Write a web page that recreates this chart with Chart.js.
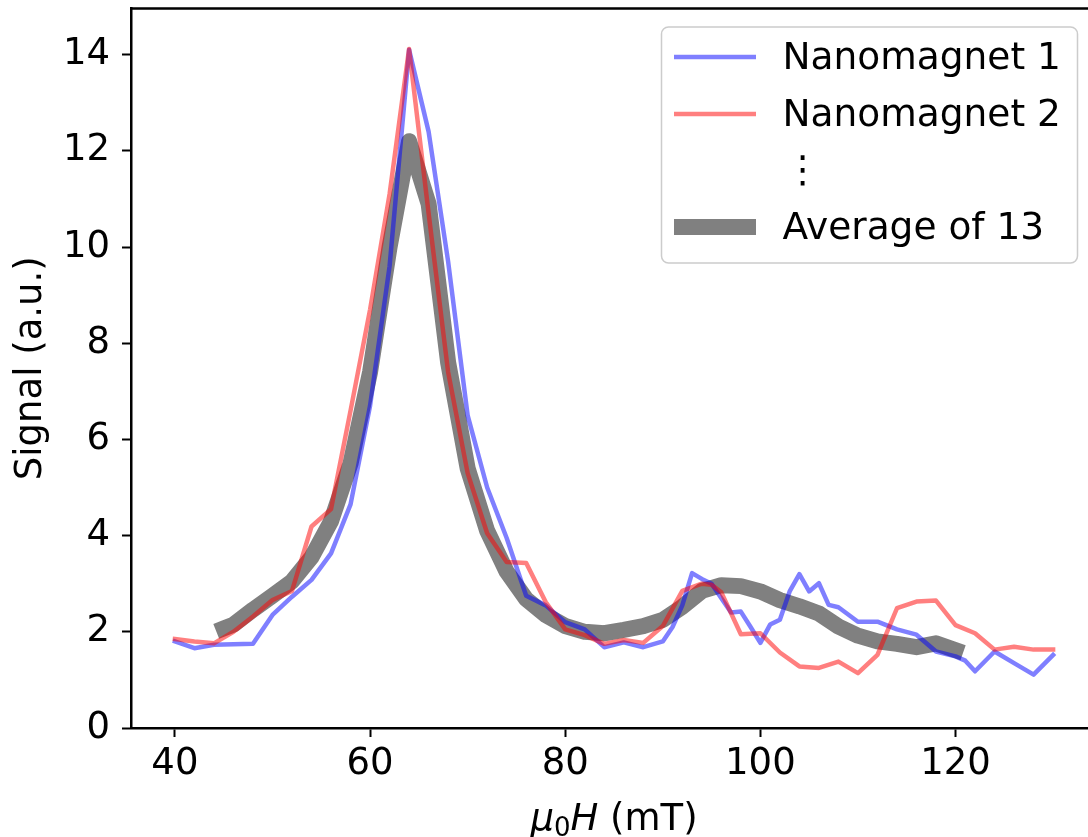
<!DOCTYPE html>
<html>
<head>
<meta charset="utf-8">
<script src="https://cdn.jsdelivr.net/npm/chart.js@4"></script>
<style>
  html, body { margin: 0; padding: 0; background: #fff; overflow: hidden; }
  #wrap { width: 1100px; height: 850px; }
</style>
</head>
<body>
<div id="wrap"><canvas id="chart"></canvas></div>
<script>
// field values (mT) and signal
const blueX = [40, 42, 44, 46, 48, 50, 52, 54, 56, 58, 60, 62, 64, 66, 68, 70, 72, 74, 76, 78, 80, 82, 84, 86, 88, 90,
  91, 92, 93, 94, 95, 96, 97, 98, 99, 100, 101, 102, 103, 104, 105, 106, 107, 108, 110, 112, 114, 116, 118, 120, 121, 122, 124, 126, 128, 130]
const blueY = [1.80, 1.66, 1.73, 1.74, 1.75, 2.35, 2.73, 3.08, 3.63, 4.65, 6.7, 9.6, 14.1, 12.4, 9.7, 6.5, 5.0, 3.95, 2.75, 2.55, 2.2, 2.05, 1.68, 1.78, 1.68, 1.80,
  2.1, 2.55, 3.22, 3.1, 3.0, 2.7, 2.4, 2.42, 2.1, 1.77, 2.15, 2.25, 2.84, 3.2, 2.84, 3.01, 2.56, 2.51, 2.21, 2.21, 2.05, 1.94, 1.59, 1.49, 1.4, 1.18, 1.59, 1.35, 1.11, 1.52]

const redX = [40, 42, 44, 46, 48, 50, 52, 54, 56, 58, 60, 62, 64, 66, 68, 70, 72, 74, 76, 78, 80, 82, 84, 86, 88, 90,
  92, 94, 95, 96, 98, 100, 102, 104, 106, 108, 110, 112, 114, 116, 118, 120, 122, 124, 126, 128, 130]
const redY = [1.85, 1.80, 1.76, 2.0, 2.32, 2.66, 2.85, 4.19, 4.55, 6.6, 8.7, 11.1, 14.12, 10.7, 7.4, 5.3, 4.05, 3.45, 3.43, 2.62, 2.05, 1.93, 1.75, 1.83, 1.77, 2.12,
  2.85, 3.0, 2.98, 2.82, 1.95, 1.97, 1.57, 1.28, 1.25, 1.38, 1.14, 1.52, 2.49, 2.63, 2.65, 2.14, 1.97, 1.63, 1.69, 1.63, 1.63]

const avgX = [45, 46, 48, 50, 52, 54, 56, 58, 60, 62, 64, 66, 68, 70, 72, 74, 76, 78, 80, 82, 84, 86, 88, 90,
  92, 94, 96, 98, 100, 102, 104, 106, 108, 110, 112, 114, 116, 118, 120]
const avgY = [2.07, 2.15, 2.46, 2.75, 3.05, 3.55, 4.3, 5.5, 7.4, 10.0, 12.2, 10.9, 7.6, 5.4, 4.1, 3.25, 2.68, 2.35, 2.12, 2.0, 1.97, 2.04, 2.12, 2.25,
  2.52, 2.85, 2.97, 2.95, 2.84, 2.66, 2.53, 2.38, 2.11, 1.92, 1.8, 1.75, 1.68, 1.76, 1.62]

const seriesLabels = ['Nanomagnet 1', 'Nanomagnet 2', 'Average of 13']
const gapLabel = '\u22EE'
const xTicks = [40, 60, 80, 100, 120]
const yTicks = [0, 2, 4, 6, 8, 10, 12, 14]

const FONT = "'DejaVu Sans', 'Liberation Sans', sans-serif"
const SIZE = 37

const pts = (xs, ys) => xs.map((x, i) => ({x: x, y: ys[i]}))

// top/right spines like matplotlib
const spines = {
  id: 'spines',
  afterDraw(chart) {
    const {ctx, chartArea: a} = chart
    ctx.save()
    ctx.strokeStyle = '#000'
    ctx.lineWidth = 2.5
    ctx.beginPath()
    ctx.moveTo(a.left, a.top)
    ctx.lineTo(a.right, a.top)
    ctx.lineTo(a.right, a.bottom)
    ctx.stroke()
    ctx.restore()
  }
}

// x axis label with italic mu and H, subscript 0
const xLabel = {
  id: 'xLabel',
  afterDraw(chart) {
    const {ctx, chartArea: a} = chart
    const parts = [
      {t: 'μ', f: 'italic ' + SIZE + 'px ' + FONT, dy: 0},
      {t: '0', f: Math.round(SIZE * 0.7) + 'px ' + FONT, dy: 6},
      {t: 'H', f: 'italic ' + SIZE + 'px ' + FONT, dy: 0},
      {t: ' (mT)', f: SIZE + 'px ' + FONT, dy: 0}
    ]
    ctx.save()
    ctx.fillStyle = '#000'
    ctx.textBaseline = 'alphabetic'
    ctx.textAlign = 'left'
    let w = 0
    parts.forEach(p => { ctx.font = p.f; p.w = ctx.measureText(p.t).width; w += p.w })
    let x = (a.left + a.right) / 2 - w / 2
    const base = a.bottom + 102
    parts.forEach(p => {
      ctx.font = p.f
      ctx.fillText(p.t, x, base + p.dy)
      x += p.w
    })
    ctx.restore()
  }
}

// legend box drawn in the upper right corner, with the "..." row
const boxLegend = {
  id: 'boxLegend',
  afterDraw(chart) {
    const {ctx, chartArea: a} = chart
    const ds = chart.data.datasets
    const right = a.right - 19.5, top = a.top + 18.5
    const left = right - 416, h = 236
    ctx.save()
    ctx.fillStyle = 'rgba(255,255,255,0.8)'
    ctx.strokeStyle = '#cccccc'
    ctx.lineWidth = 1.5
    ctx.beginPath()
    ctx.roundRect(left, top, right - left, h, 7)
    ctx.fill()
    ctx.stroke()

    const rows = [
      {ds: ds[0], y: top + 30},
      {ds: ds[1], y: top + 87},
      {gap: true, y: top + 145},
      {ds: ds[2], y: top + 200}
    ]
    ctx.font = '37.5px ' + FONT
    ctx.textBaseline = 'middle'
    rows.forEach(r => {
      if (r.gap) {
        ctx.fillStyle = '#000'
        ctx.textAlign = 'center'
        ctx.fillText(gapLabel, left + 141, r.y)
        return
      }
      ctx.strokeStyle = r.ds.borderColor
      ctx.lineWidth = r.ds.borderWidth
      ctx.lineCap = 'butt'
      ctx.beginPath()
      ctx.moveTo(left + 12.5, r.y)
      ctx.lineTo(left + 94.5, r.y)
      ctx.stroke()
      ctx.fillStyle = '#000'
      ctx.textAlign = 'left'
      ctx.fillText(r.ds.label, left + 121, r.y + 2)
    })
    ctx.restore()
  }
}

const ctx = document.getElementById('chart').getContext('2d')
new Chart(ctx, {
  type: 'line',
  data: {
    datasets: [
      {
        label: seriesLabels[0],
        data: pts(blueX, blueY),
        borderColor: 'rgba(0,0,255,0.5)',
        borderWidth: 4.5,
        order: 2
      },
      {
        label: seriesLabels[1],
        data: pts(redX, redY),
        borderColor: 'rgba(255,0,0,0.5)',
        borderWidth: 4.5,
        order: 1
      },
      {
        label: seriesLabels[2],
        data: pts(avgX, avgY),
        borderColor: '#808080',
        borderWidth: 16,
        order: 3
      }
    ]
  },
  options: {
    responsive: true,
    maintainAspectRatio: false,
    animation: false,
    devicePixelRatio: 1,
    layout: { padding: { top: 8.5, right: 3, left: 0, bottom: 0 } },
    elements: {
      point: { radius: 0, hoverRadius: 0 },
      line: { tension: 0, fill: false, borderJoinStyle: 'round', borderCapStyle: 'square' }
    },
    plugins: {
      legend: { display: false },
      tooltip: { enabled: false }
    },
    scales: {
      x: {
        type: 'linear',
        min: 35.5,
        max: 134.5,
        afterBuildTicks: s => { s.ticks = xTicks.map(v => ({value: v})) },
        afterFit: s => { s.height = 122; s.paddingLeft = 0; s.paddingRight = 0 },
        grid: { drawOnChartArea: false, drawTicks: true, tickLength: 9, tickWidth: 2, tickColor: '#000' },
        border: { color: '#000', width: 2.5 },
        ticks: { color: '#000', padding: 5, font: { family: FONT, size: SIZE }, maxRotation: 0 }
      },
      y: {
        type: 'linear',
        min: 0,
        max: 14.96,
        afterBuildTicks: s => { s.ticks = yTicks.map(v => ({value: v})) },
        afterFit: s => { s.width = 131; s.paddingTop = 0; s.paddingBottom = 0 },
        grid: { drawOnChartArea: false, drawTicks: true, tickLength: 9, tickWidth: 2, tickColor: '#000' },
        border: { color: '#000', width: 2.5 },
        ticks: { color: '#000', padding: 12, font: { family: FONT, size: SIZE } },
        title: { display: true, text: 'Signal (a.u.)', color: '#000', padding: { top: 9, bottom: 0 }, font: { family: FONT, size: SIZE } }
      }
    }
  },
  plugins: [spines, xLabel, boxLegend]
})
</script>
</body>
</html>
